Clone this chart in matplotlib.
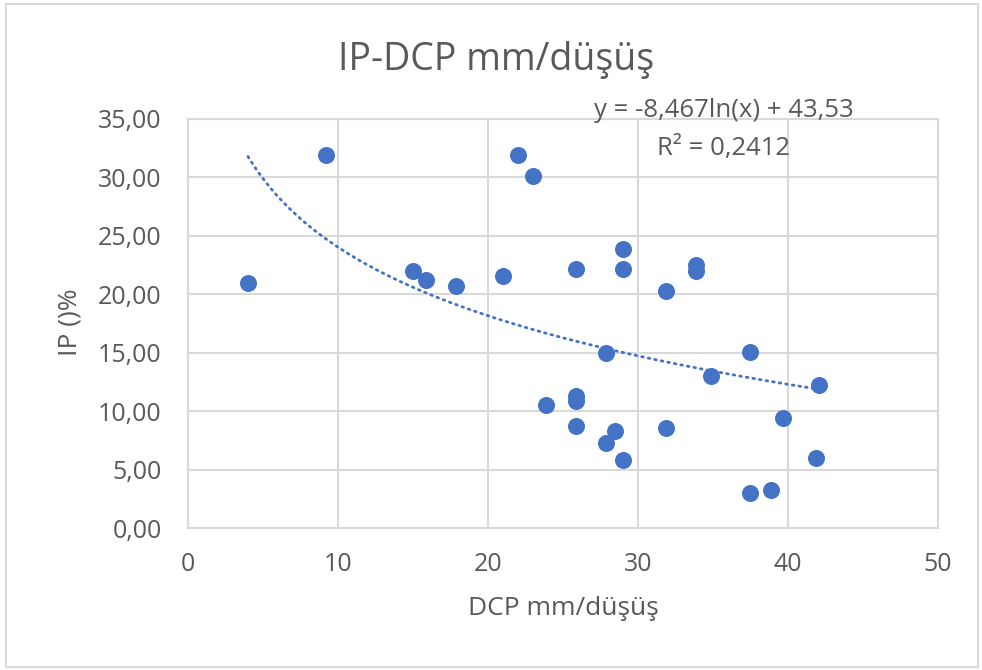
"""IP vs DCP scatter with logarithmic trendline (Excel-style)."""
import matplotlib
import matplotlib.pyplot as plt
import matplotlib.ticker as ticker
import numpy as np
from matplotlib.patches import Rectangle

matplotlib.use("Agg")

# data
dcp = [4.0, 9.2, 15.0, 15.9, 17.9, 21.0, 22.0, 23.0, 23.9, 25.9,
       25.9, 25.9, 25.9, 27.9, 27.9, 28.5, 29.0, 29.0, 29.0, 31.9,
       31.9, 33.9, 33.9, 34.9, 37.5, 37.5, 38.9, 39.7, 41.9, 42.1]
ip = [20.96, 31.9, 22.0, 21.2, 20.7, 21.6, 31.9, 30.1, 10.5, 22.2,
      11.3, 10.9, 8.7, 15.0, 7.3, 8.3, 23.9, 22.2, 5.8, 20.3,
      8.6, 22.5, 22.0, 13.0, 15.1, 3.0, 3.25, 9.4, 6.0, 12.2]

# trendline coefficients as printed on the chart
trend_a = -8.467
trend_b = 43.53
r_squared = 0.2412

_BLUE = "#4472c4"
_TEXT = "#595959"
_GRID = "#d9d9d9"
_FONT = "Open Sans"

fig = plt.figure(figsize=(9.82, 6.7), dpi=100)
fig.patch.set_facecolor("white")
fig.add_artist(Rectangle((0.006, 0.004), 0.99, 0.99, transform=fig.transFigure,
                         fill=False, edgecolor="#d9d9d9", linewidth=1.5))

ax = fig.add_axes([0.1914, 0.2119, 0.7638, 0.6105])

ax.scatter(dcp, ip, s=150, color=_BLUE, zorder=3, linewidths=0)

xs = np.linspace(min(dcp), max(dcp), 200)
ax.plot(xs, trend_a * np.log(xs) + trend_b, color=_BLUE, linewidth=2.0,
        linestyle=(0, (0.6, 1.8)), dash_capstyle="round", zorder=2)

ax.set_xlim(0, 50)
ax.set_ylim(0, 35)
ax.xaxis.set_major_locator(ticker.MultipleLocator(10))
ax.yaxis.set_major_locator(ticker.MultipleLocator(5))
ax.yaxis.set_major_formatter(ticker.FuncFormatter(lambda v, _: f"{v:.2f}".replace(".", ",")))

ax.grid(True, color=_GRID, linewidth=1.5, zorder=0)
ax.set_axisbelow(True)
for spine in ax.spines.values():
    spine.set_color(_GRID)
    spine.set_linewidth(1.5)
ax.tick_params(length=0, labelsize=18, labelcolor=_TEXT)
ax.tick_params(axis="x", pad=17)
ax.tick_params(axis="y", pad=19)
for lbl in ax.get_xticklabels() + ax.get_yticklabels():
    lbl.set_fontfamily(_FONT)

fig.text(0.5733, 0.0925, "DCP mm/düşüş", ha="center", va="center",
         fontsize=19, color=_TEXT, family=_FONT)
fig.text(0.0713, 0.519, "IP ()%", ha="center", va="center", rotation=90,
         fontsize=19, color=_TEXT, family=_FONT)
fig.text(0.5056, 0.9104, "IP-DCP mm/düşüş", ha="center", va="center",
         fontsize=27, color=_TEXT, family=_FONT)

ax.text(0.714, 1.02, "y = -8,467ln(x) + 43,53", transform=ax.transAxes,
        ha="center", va="center", fontsize=18.5, color=_TEXT, family=_FONT)
ax.text(0.714, 0.929, f"R² = {r_squared}".replace(".", ","), transform=ax.transAxes,
        ha="center", va="center", fontsize=18.5, color=_TEXT, family=_FONT)

fig.savefig("out.png", dpi=100, facecolor="white")
plt.close(fig)
